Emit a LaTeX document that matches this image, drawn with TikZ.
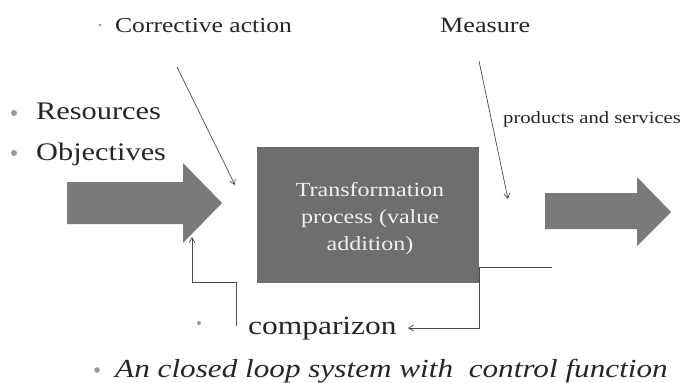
\documentclass[tikz,border=0pt]{standalone}
\usepackage{fontspec}
\setmainfont{Liberation Serif}[FakeStretch=1.2]
\usetikzlibrary{arrows.meta}
\definecolor{boxgray}{HTML}{6E6E6E}
\definecolor{arrgray}{HTML}{7A7A7A}
\definecolor{linegray}{HTML}{4A4A4A}
\definecolor{bulgray}{HTML}{9A9A9A}
\begin{document}
\begin{tikzpicture}[x=1pt,y=-1pt,
  conn/.style={draw=linegray,line width=0.7pt},
  tip/.style={-{Straight Barb[length=5pt,width=6pt]}},
  bigarrow/.style={fill=arrgray,draw=none},
  txt/.style={inner sep=0pt,anchor=base west,text=black!85},
  boxline/.style={inner sep=0pt,anchor=base,text=white!94!black,font=\fontsize{20}{27}\selectfont},
  bul/.style={fill=bulgray,draw=none}]
\useasboundingbox (0,0) rectangle (686,383);
\fill[white] (0,0) rectangle (686,383);
% input arrow
\path[bigarrow] (67,182) -- (183,182) -- (183,163) -- (222,203) -- (183,243) -- (183,224) -- (67,224) -- cycle;
% output arrow
\path[bigarrow] (545,193) -- (637,193) -- (637,177) -- (671,212) -- (637,246) -- (637,229) -- (545,229) -- cycle;
% process box
\node[fill=boxgray,draw=none,minimum width=222pt,minimum height=136pt,inner sep=0pt] (box) at (368,215) {};
\node[boxline] (bt1) at (370,196) {Transformation};
\node[boxline] (bt2) at (370,223) {process (value};
\node[boxline] (bt3) at (370,250) {addition)};
% texts
\node[txt,font=\fontsize{21.3}{24}\selectfont] (ca) at (115,32) {Corrective action};
\node[txt,font=\fontsize{21.8}{24}\selectfont] (meas) at (440,32) {Measure};
\node[txt,font=\fontsize{25.3}{28}\selectfont] (res) at (36,119) {Resources};
\node[txt,font=\fontsize{25.3}{28}\selectfont] (obj) at (36,160) {Objectives};
\node[txt,font=\fontsize{17.2}{20}\selectfont] (prod) at (503,123) {products and services};
\node[txt,font=\fontsize{26.2}{28}\selectfont] (comp) at (248,334) {comparizon};
\node[txt,font=\fontsize{26}{28}\itshape\selectfont] (loop) at (115,377) {An closed loop system with \ control function};
% bullets
\fill[bul] (100,25) circle (1.5);
\fill[bul] (14,113) circle (3);
\fill[bul] (14,153) circle (3);
\fill[bul] (199,323) circle (2);
\fill[bul] (97,370) circle (2.8);
% connectors
\coordinate (caS) at (177,67);
\coordinate (caE) at (235,185);
\draw[conn,tip] (caS) -- (caE);
\coordinate (mS) at (479,61);
\coordinate (mE) at (508,199);
\draw[conn,tip] (mS) -- (mE);
\coordinate (fbS) at (552,267);
\coordinate (fbC) at (479,328);
\coordinate (fbE) at (408,328);
\draw[conn,tip] (fbS) -| (fbC) -- (fbE);
\coordinate (cS) at (236,326);
\coordinate (cC) at (192,282);
\coordinate (cE) at (192,237);
\draw[conn,tip] (cS) |- (cC) -- (cE);
\end{tikzpicture}
\end{document}
